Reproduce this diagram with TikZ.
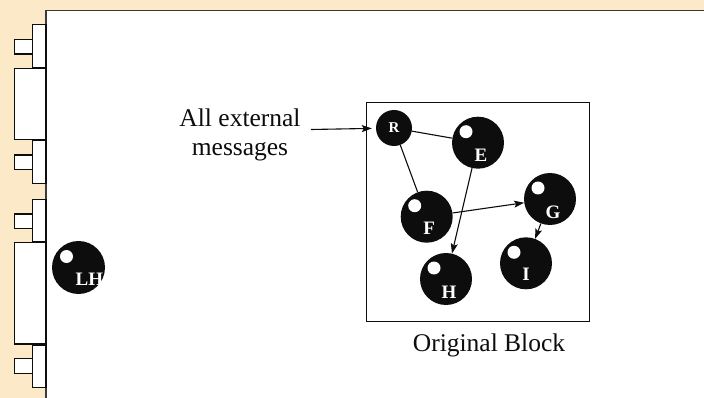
\documentclass[tikz,border=0pt]{standalone}
\usepackage{fontspec}
\setmainfont{Liberation Serif}
\usetikzlibrary{arrows.meta}
\definecolor{beige}{HTML}{FCE9C8}
\definecolor{ink}{HTML}{0D0D0D}
\definecolor{frame}{HTML}{3A3A3A}
\begin{document}
\begin{tikzpicture}[x=1pt,y=-1pt,
  port/.style={draw=ink,fill=white,line width=1.2pt},
  ball/.style={circle,fill=ink,inner sep=0pt,minimum size=52pt,
    path picture={\fill[white] ([shift={(-12pt,11pt)}]path picture bounding box.center) circle (6.5pt);}},
  small ball/.style={circle,fill=ink,inner sep=0pt,minimum size=36pt},
  tag/.style={text=white,font=\bfseries\fontsize{19}{19}\selectfont,inner sep=0pt},
  caption/.style={font=\fontsize{25.5}{29}\selectfont,text=ink,inner sep=0pt},
  link/.style={draw=ink,line width=1.1pt},
  arr/.style={link,-{Stealth[length=10pt,width=7pt,inset=2pt]}}]

% page and panel
\useasboundingbox (0,0) rectangle (704,398);
\fill[beige] (0,0) rectangle (704,398);
\draw[frame,fill=white,line width=1.5pt] (46,10.5) rectangle (720,420);

% connector pins along the left edge
\draw[port] (32.7,24.3) rectangle (46,67.3);
\draw[port] (14.3,39.3) rectangle (32.7,54);
\draw[port] (14.3,68.3) rectangle (46,139.3);
\draw[port] (32.7,140.7) rectangle (46,183.3);
\draw[port] (14.3,155) rectangle (32.7,169.3);
\draw[port] (32.7,199.3) rectangle (46,241.3);
\draw[port] (14.3,214) rectangle (32.7,228.7);
\draw[port] (14.3,242.7) rectangle (46,344);
\draw[port] (32.7,345) rectangle (46,387.3);
\draw[port] (14.3,358.3) rectangle (32.7,373.3);

% local handler, its label cut off by the ball's rim
\node[ball,minimum size=53pt] (LH) at (78.5,267.5) {};
\begin{scope}
  \clip (LH.center) circle (26.5);
  \node[tag,anchor=base west] (lhtag) at (75.5,285.5) {LH};
\end{scope}

% original block
\node[draw=ink,line width=1.1pt,minimum width=223pt,minimum height=218.3pt,inner sep=0pt]
  (blk) at (477.7,211.9) {};
\node[caption,anchor=base] (cap) at (489,351.7) {Original Block};

\node[small ball,label={[tag,font=\bfseries\fontsize{15}{15}\selectfont]center:R}] (R) at (394,128) {};
\node[ball,label={[tag,xshift=3pt,yshift=-13pt]center:E}] (E) at (478,142.7) {};
\node[ball,label={[tag,xshift=2.5pt,yshift=-12pt]center:F}] (F) at (426.7,216.7) {};
\node[ball,label={[tag,xshift=3pt,yshift=-13pt]center:G}] (G) at (550,199) {};
\node[ball,label={[tag,xshift=3pt,yshift=-13pt]center:H}] (H) at (446,279) {};
\node[ball,label={[tag,xshift=0pt,yshift=-11pt]center:I}] (I) at (526,263.3) {};

\draw[link] (R) -- (E);
\draw[link] (R) -- (F);
\draw[arr] (E) -- (H);
\draw[arr] (F) -- (G);
\draw[arr] (G) -- (I);

% incoming messages
\node[caption,align=center,anchor=north] (ext) at (240,108.6) {All external\\messages};
\coordinate (extin) at (311,129.5);
\draw[arr,shorten >=4pt] (extin) -- (R);
\end{tikzpicture}
\end{document}
